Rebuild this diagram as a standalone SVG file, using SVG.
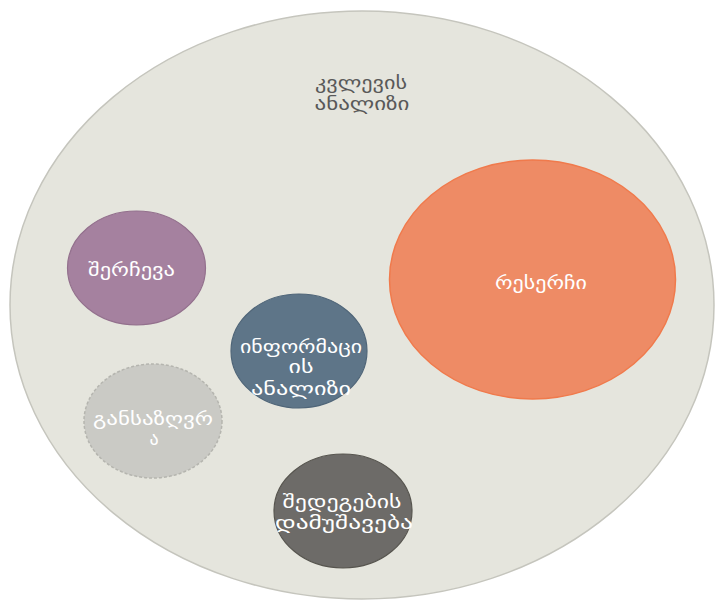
<svg xmlns="http://www.w3.org/2000/svg" width="715" height="600" viewBox="0 0 715 600">
<style>
text{font-family:"DejaVu Sans","Noto Sans",sans-serif;font-size:18px;text-anchor:middle}
.w{fill:#ffffff}
.t{fill:#595959}
</style>
<rect width="715" height="600" fill="#ffffff"/>
<g id="outer">
<ellipse cx="362" cy="305" rx="352" ry="294" fill="#E5E5DD" stroke="#C5C5BD" stroke-width="1.5"/>
<text class="t" x="361" y="89" textLength="92" lengthAdjust="spacingAndGlyphs">კვლევის</text>
<text class="t" x="362" y="110" textLength="95" lengthAdjust="spacingAndGlyphs">ანალიზი</text>
</g>
<g id="research">
<ellipse cx="532.5" cy="279.5" rx="143" ry="119.5" fill="#EE8B65" stroke="#F07A4C" stroke-width="1.5"/>
<text class="w" x="541" y="289" textLength="92" lengthAdjust="spacingAndGlyphs">რესერჩი</text>
</g>
<g id="selection">
<ellipse cx="136.5" cy="268" rx="69" ry="57" fill="#A5819F" stroke="#93708D" stroke-width="1.2"/>
<text class="w" x="131.5" y="276" textLength="87" lengthAdjust="spacingAndGlyphs">შერჩევა</text>
</g>
<g id="info">
<ellipse cx="299" cy="351" rx="68" ry="57" fill="#5E7588" stroke="#4F6578" stroke-width="1.2"/>
<text class="w" x="301" y="353" textLength="122" lengthAdjust="spacingAndGlyphs">ინფორმაცი</text>
<text class="w" x="301" y="373" textLength="25" lengthAdjust="spacingAndGlyphs">ის</text>
<text class="w" x="301" y="395" textLength="100" lengthAdjust="spacingAndGlyphs">ანალიზი</text>
</g>
<g id="define">
<ellipse cx="153" cy="421" rx="69" ry="57" fill="#CACAC5" stroke="#B5B5AF" stroke-width="1.5" stroke-dasharray="3 2"/>
<text class="w" x="153" y="425" textLength="120" lengthAdjust="spacingAndGlyphs">განსაზღვრ</text>
<text class="w" x="154" y="445">ა</text>
</g>
<g id="processing">
<ellipse cx="343" cy="511" rx="69" ry="57" fill="#6D6B68" stroke="#57554F" stroke-width="1.2"/>
<text class="w" x="342" y="508" textLength="119" lengthAdjust="spacingAndGlyphs">შედეგების</text>
<text class="w" x="344" y="529" textLength="138" lengthAdjust="spacingAndGlyphs">დამუშავება</text>
</g>
<g id="connectors"></g>
</svg>
